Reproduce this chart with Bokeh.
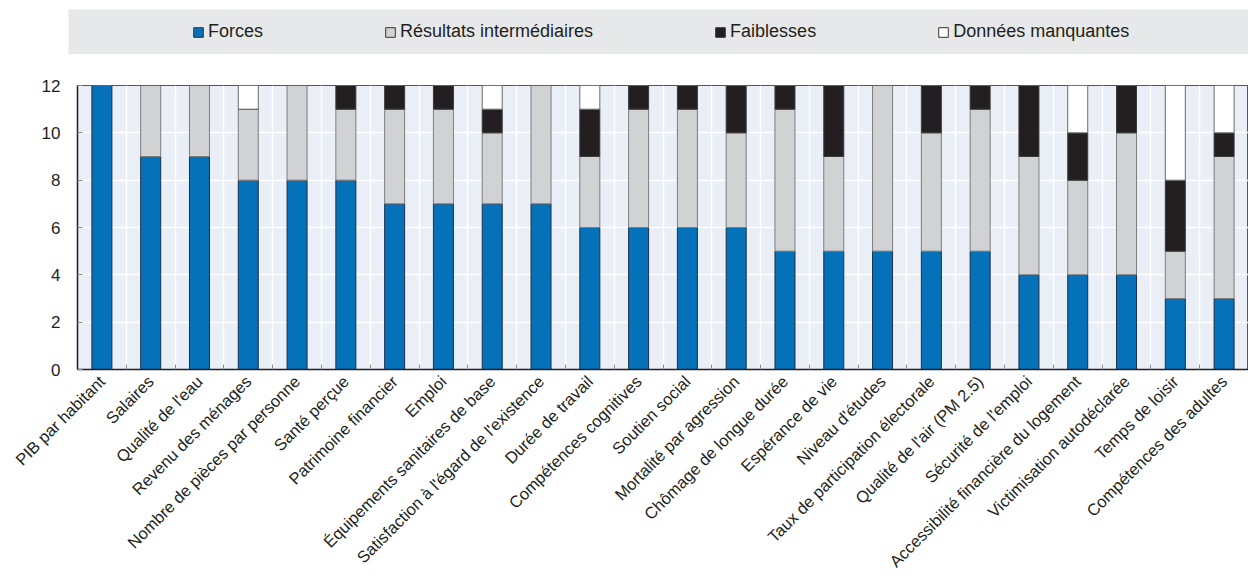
import math
import numpy as np
from bokeh.plotting import figure
from bokeh.models import (ColumnDataSource, FixedTicker, Legend, LegendItem,
                          Range1d, Spacer)
from bokeh.layouts import column, row
from bokeh.embed import file_html
from bokeh.resources import INLINE

categories = [
    "PIB par habitant", "Salaires", "Qualité de l'eau", "Revenu des ménages",
    "Nombre de pièces par personne", "Santé perçue", "Patrimoine financier",
    "Emploi", "Équipements sanitaires de base",
    "Satisfaction à l'égard de l'existence", "Durée de travail",
    "Compétences cognitives", "Soutien social", "Mortalité par agression",
    "Chômage de longue durée", "Espérance de vie", "Niveau d'études",
    "Taux de participation électorale", "Qualité de l'air (PM 2.5)",
    "Sécurité de l'emploi", "Accessibilité financière du logement",
    "Victimisation autodéclarée", "Temps de loisir", "Compétences des adultes",
]
forces = [12, 9, 9, 8, 8, 8, 7, 7, 7, 7, 6, 6, 6, 6, 5, 5, 5, 5, 5, 4, 4, 4, 3, 3]
intermediaires = [0, 3, 3, 3, 4, 3, 4, 4, 3, 5, 3, 5, 5, 4, 6, 4, 7, 5, 6, 5, 4, 6, 2, 6]
faiblesses = [0, 0, 0, 0, 0, 1, 1, 1, 1, 0, 2, 1, 1, 2, 1, 3, 0, 2, 1, 3, 2, 2, 3, 1]
manquantes = [0, 0, 0, 1, 0, 0, 0, 0, 1, 0, 1, 0, 0, 0, 0, 0, 0, 0, 0, 0, 2, 0, 4, 2]
y_ticks = [0, 2, 4, 6, 8, 10, 12]

series_labels = ["Forces", "Résultats intermédiaires", "Faiblesses", "Données manquantes"]
series_keys = ["forces", "intermediaires", "faiblesses", "manquantes"]
fill_colors = ["#0571b9", "#d1d2d4", "#231f20", "#ffffff"]
line_colors = ["#1b3047", "#7d7d7d", "#3a3a3a", "#6b6b6b"]

FONT = "Liberation Sans"
TXT = "#231f20"

n = len(categories)
centers = (np.arange(n) + 0.5).tolist()
bounds = list(range(1, n))

source = ColumnDataSource(dict(x=centers, forces=forces, intermediaires=intermediaires,
                               faiblesses=faiblesses, manquantes=manquantes))

p = figure(width=1248, height=525, x_range=Range1d(0, n), y_range=Range1d(0, 12),
           output_backend="svg", toolbar_location=None,
           min_border_left=77, min_border_right=0, min_border_top=31, min_border_bottom=210,
           background_fill_color="#e9eef7", border_fill_color="white")
p.outline_line_color = "#555555"
p.outline_line_width = 1

p.vbar_stack(series_keys, x="x", width=0.41, source=source,
             fill_color=fill_colors, line_color=line_colors, line_width=1)

# x axis
p.xaxis.ticker = FixedTicker(ticks=centers, minor_ticks=bounds)
p.xaxis.major_label_overrides = {c: lab for c, lab in zip(centers, categories)}
p.xaxis.major_label_orientation = math.pi / 4
p.xaxis.major_tick_in = 0
p.xaxis.major_tick_out = 0
p.xaxis.minor_tick_in = 5
p.xaxis.minor_tick_out = 0
p.xaxis.minor_tick_line_color = "#8a8a8a"
p.xaxis.axis_line_color = "#231f20"
p.xaxis.axis_line_width = 1.5
p.xaxis.major_label_text_font = FONT
p.xaxis.major_label_text_font_size = "16.5px"
p.xaxis.major_label_text_color = TXT
p.xaxis.major_label_standoff = 9

# y axis
p.yaxis.ticker = FixedTicker(ticks=y_ticks)
p.yaxis.major_tick_in = 5
p.yaxis.major_tick_out = 0
p.yaxis.major_tick_line_color = "#8a8a8a"
p.yaxis.minor_tick_line_color = None
p.yaxis.axis_line_color = "#231f20"
p.yaxis.axis_line_width = 1.5
p.yaxis.major_label_text_font = FONT
p.yaxis.major_label_text_font_size = "17px"
p.yaxis.major_label_text_color = TXT
p.yaxis.major_label_standoff = 17

# grids
p.xgrid.grid_line_color = None
p.xgrid.minor_grid_line_color = "white"
p.xgrid.minor_grid_line_width = 1.5
p.ygrid.grid_line_color = "white"
p.ygrid.grid_line_width = 1.5

# legend band
lf = figure(width=1180, height=45, x_range=Range1d(0, 1), y_range=Range1d(0, 1),
            output_backend="svg", toolbar_location=None,
            x_axis_location=None, y_axis_location=None,
            min_border=0, background_fill_color="#e7e8e9", border_fill_color="#e7e8e9")
lf.outline_line_color = None
lf.grid.visible = False
items = []
for lab, fc in zip(series_labels, fill_colors):
    # swatch-only renderers placed outside the visible range
    r = lf.vbar(x=[-5], top=[-5], width=0.1, fill_color=fc, line_color="#333333", line_width=1)
    items.append(LegendItem(label=lab, renderers=[r]))
legend = Legend(items=items, orientation="horizontal", location=(124, 12),
                spacing=121, padding=0, margin=0,
                background_fill_alpha=0, border_line_color=None,
                glyph_width=12, glyph_height=12, label_standoff=4,
                label_text_font=FONT, label_text_font_size="18px",
                label_text_color=TXT)
lf.add_layout(legend, "center")

layout = column(Spacer(width=10, height=9),
                row(Spacer(width=68, height=45), lf),
                p)

open("out.html", "w").write(file_html(layout, INLINE))
